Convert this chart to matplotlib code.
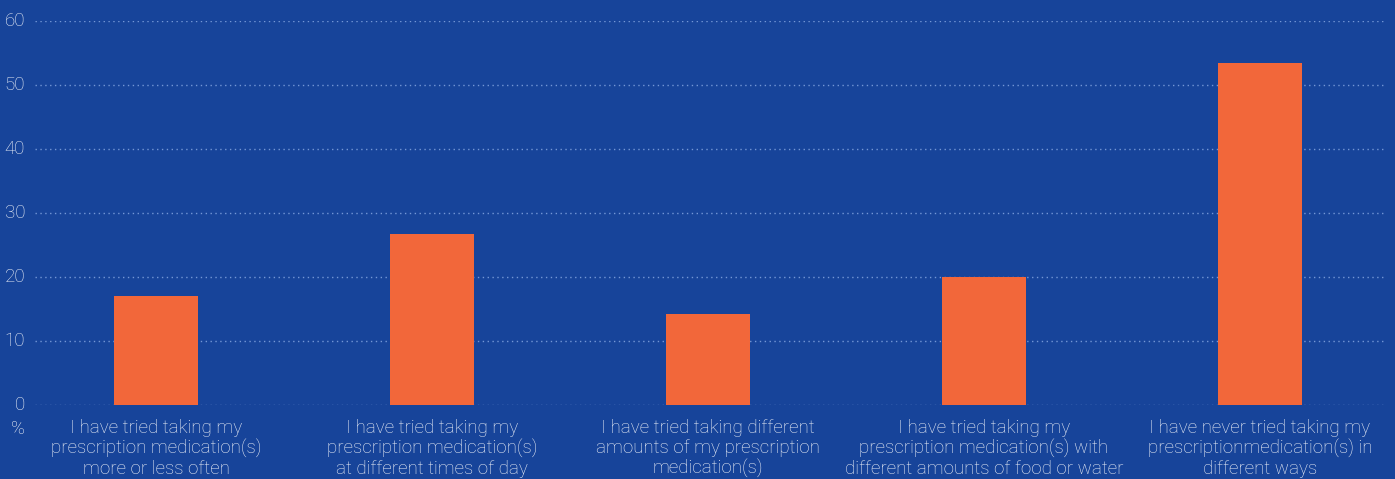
import matplotlib.pyplot as plt

# Data
categories = [
    "I have tried taking my\nprescription medication(s)\nmore or less often",
    "I have tried taking my\nprescription medication(s)\nat different times of day",
    "I have tried taking different\namounts of my prescription\nmedication(s)",
    "I have tried taking my\nprescription medication(s) with\ndifferent amounts of food or water",
    "I have never tried taking my\nprescriptionmedication(s) in\ndifferent ways",
]
values = [17.0, 26.7, 14.2, 20.0, 53.4]
yticks = [0, 10, 20, 30, 40, 50, 60]

bg = "#17449a"
bar_color = "#f2673a"
text_color = "#eef1f8"
grid_color = "#7497d6"

plt.rcParams['font.family'] = ['Roboto', 'DejaVu Sans']

fig = plt.figure(figsize=(13.95, 4.79), dpi=100, facecolor=bg)
ax = fig.add_axes([18 / 1395, 74 / 479, 1380 / 1395, 384 / 479])
ax.set_facecolor(bg)

x = range(len(categories))
ax.hlines(yticks, -0.438, 4.453, colors=grid_color, linestyles=(0, (1, 2.5)),
          linewidth=1, zorder=1)
ax.bar(x, values, width=0.304, color=bar_color, zorder=2)

ax.set_xlim(-0.5, 4.5)
ax.set_ylim(0, 60)
for s in ax.spines.values():
    s.set_visible(False)

# y labels sit inside the axes, left of the dotted grid
ax.set_yticks([])
for t in yticks:
    ax.text(-0.474, t, str(t), ha='right', va='center',
            fontsize=13.5, color=text_color, fontweight='light')
ax.text(-0.476, -3.7, "%", ha='right', va='center', fontsize=13.5,
        color=text_color, fontweight='light')

ax.set_xticks(list(x))
ax.set_xticklabels(categories, fontsize=13.5, color=text_color,
                   fontweight='light', linespacing=1.13, va='top')
ax.tick_params(axis='x', length=0, pad=10)

fig.savefig("out.png", dpi=100, facecolor=bg)
